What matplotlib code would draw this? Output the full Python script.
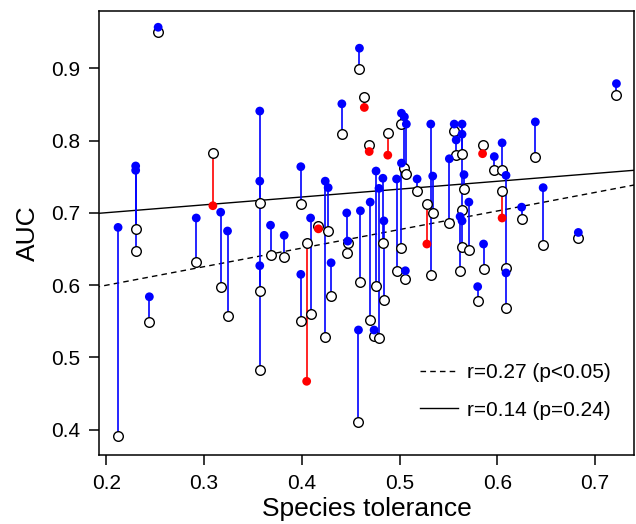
import numpy as np
import matplotlib
matplotlib.use("Agg")
import matplotlib.pyplot as plt

plt.rcParams['font.family'] = ['Liberation Sans', 'DejaVu Sans']

# species tolerance, AUC of the open point, AUC of the filled point
tolerance = [0.212, 0.230, 0.230, 0.244, 0.253, 0.292, 0.309, 0.317, 0.324, 0.357,
             0.357, 0.357, 0.368, 0.382, 0.399, 0.399, 0.405, 0.409, 0.417, 0.424,
             0.427, 0.430, 0.441, 0.446, 0.447, 0.458, 0.459, 0.460, 0.464, 0.469,
             0.470, 0.474, 0.476, 0.479, 0.483, 0.484, 0.488, 0.497, 0.502, 0.502,
             0.505, 0.506, 0.507, 0.518, 0.528, 0.532, 0.534, 0.551, 0.556, 0.558,
             0.562, 0.564, 0.564, 0.564, 0.566, 0.571, 0.580, 0.585, 0.586, 0.597,
             0.605, 0.605, 0.609, 0.609, 0.625, 0.639, 0.647, 0.683, 0.722]
auc_open = [0.391, 0.678, 0.647, 0.549, 0.950, 0.632, 0.783, 0.598, 0.557, 0.592,
            0.714, 0.483, 0.642, 0.639, 0.713, 0.550, 0.659, 0.560, 0.682, 0.528,
            0.675, 0.585, 0.809, 0.645, 0.659, 0.411, 0.899, 0.605, 0.860, 0.794,
            0.552, 0.530, 0.599, 0.527, 0.658, 0.579, 0.811, 0.620, 0.823, 0.652,
            0.762, 0.608, 0.754, 0.731, 0.713, 0.614, 0.700, 0.686, 0.814, 0.780,
            0.620, 0.782, 0.704, 0.653, 0.733, 0.649, 0.578, 0.794, 0.623, 0.760,
            0.760, 0.730, 0.624, 0.569, 0.692, 0.778, 0.655, 0.666, 0.863]
auc_fill = [0.680, 0.765, 0.759, 0.584, 0.957, 0.693, 0.710, 0.701, 0.675, 0.841,
            0.744, 0.627, 0.683, 0.669, 0.764, 0.615, 0.467, 0.693, 0.678, 0.744,
            0.735, 0.631, 0.851, 0.700, 0.661, 0.538, 0.928, 0.703, 0.846, 0.785,
            0.715, 0.538, 0.758, 0.734, 0.748, 0.689, 0.780, 0.747, 0.838, 0.769,
            0.833, 0.620, 0.823, 0.747, 0.657, 0.823, 0.751, 0.775, 0.823, 0.801,
            0.695, 0.809, 0.823, 0.689, 0.753, 0.715, 0.598, 0.782, 0.657, 0.778,
            0.797, 0.693, 0.752, 0.617, 0.708, 0.826, 0.735, 0.673, 0.879]

# fitted lines (intercept, slope)
fit_dashed = (0.5486, 0.2568)
fit_solid = (0.6786, 0.1087)
labels = ["r=0.27 (p<0.05)", "r=0.14 (p=0.24)"]

tol = np.array(tolerance)
a_open = np.array(auc_open)
a_fill = np.array(auc_fill)
colors = np.where(a_fill >= a_open, "#0000FF", "#FF0000")

fig = plt.figure(figsize=(6.36, 5.24), dpi=100)
ax = fig.add_axes([0.1557, 0.1317, 0.8412, 0.848])

ax.vlines(tol, a_open, a_fill, colors=colors, linewidth=1.2, zorder=2)
ax.scatter(tol, a_open, s=48, facecolors="white", edgecolors="black",
           linewidths=1.0, zorder=3)
ax.scatter(tol, a_fill, s=40, c=colors, edgecolors="none", zorder=4)

xs = np.array([0.1, 0.8])
ax.plot(xs, fit_dashed[0] + fit_dashed[1] * xs, color="black", ls=(0, (4, 3)),
        lw=1.0, label=labels[0], zorder=1)
ax.plot(xs, fit_solid[0] + fit_solid[1] * xs, color="black", ls="-",
        lw=1.0, label=labels[1], zorder=1)

ax.set_xlim(0.1925, 0.740)
ax.set_ylim(0.365, 0.980)
ax.set_xticks([0.2, 0.3, 0.4, 0.5, 0.6, 0.7])
ax.set_yticks([0.4, 0.5, 0.6, 0.7, 0.8, 0.9])
ax.tick_params(direction="out", length=7, width=1.1, labelsize=15)
ax.tick_params(axis="x", pad=7)
ax.tick_params(axis="y", pad=6.5)
for s in ax.spines.values():
    s.set_linewidth(1.1)

ax.set_xlabel("Species tolerance", fontsize=19, labelpad=2.5)
ax.set_ylabel("AUC", fontsize=19, labelpad=8)

ax.legend(loc="upper left", frameon=False, fontsize=15, handlelength=1.83,
          handletextpad=0.43, labelspacing=0.9, borderaxespad=0,
          bbox_to_anchor=(0.5845, 0.226))

fig.savefig("out.png", dpi=100)
